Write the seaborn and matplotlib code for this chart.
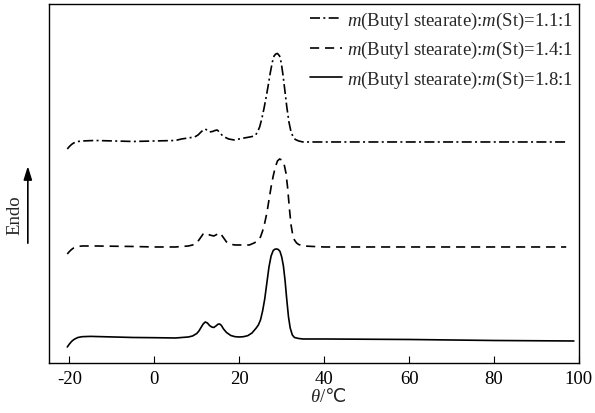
import matplotlib
matplotlib.use("Agg")
import matplotlib.pyplot as plt
import numpy as np
import pandas as pd
import seaborn as sns

# === curve data (temperature in C, signal in arbitrary units) ===
T_18 = [-20.5, -20, -19.5, -19, -18.5, -18, -17, -15, -5, 0, 5, 8, 9, 10, 10.5, 11,
        11.5, 12, 12.5, 13, 13.5, 14, 14.5, 15, 15.4, 15.8, 16.3, 17, 18, 19, 20,
        21, 22, 23, 24, 24.5, 25, 25.5, 26, 26.5, 27, 27.5, 28, 28.4, 28.8, 29.2,
        29.6, 30, 30.4, 30.8, 31.2, 31.6, 32, 32.5, 33, 34, 35, 40, 60, 80, 98.8]
Y_18 = [16, 19, 21.5, 23.3, 24.5, 25.5, 26.3, 26.6, 25.5, 25.3, 25, 26, 27, 29.5, 32, 35.5,
        39, 41, 40, 37.5, 36, 35.5, 37, 38.8, 39, 37.5, 34, 30.5, 27.5, 26.3, 26,
        26.3, 27.3, 30, 35, 38, 43, 52, 64, 80, 96, 107, 112.5, 113.8, 114, 113.5,
        111.5, 106, 97, 82, 63, 46, 35, 28, 25.5, 24.5, 24, 24, 23.5, 22.5, 22]

T_14 = [-20.5, -20, -19.5, -19, -18, -17, -14, -5, 0, 5, 8, 9, 10, 10.5, 11, 11.5,
        12, 12.5, 13, 14, 14.5, 15, 15.5, 16, 16.5, 17, 17.6, 19, 22.4, 23.5, 24.3,
        25, 25.5, 26, 26.5, 27, 27.5, 28, 28.5, 29, 29.5, 30, 30.5, 31, 31.4, 31.8,
        32.2, 32.6, 33, 33.5, 34, 35, 40, 60, 80, 97]
Y_14 = [109, 111.5, 113.5, 115, 116.5, 117, 117, 116.5, 116, 116, 117, 118, 120, 123, 126, 129,
        130, 129.5, 128, 127, 128, 129.5, 130, 127, 124, 121, 119, 118, 118, 120, 122,
        126, 132, 140, 150, 163, 176, 187, 196, 202, 204, 203, 200, 190, 175, 155,
        138, 128, 123, 120, 118.5, 117, 116, 116, 116, 116]

T_11 = [-20.5, -20, -19.5, -19, -18, -17, -14, -5, 0, 5, 6.4, 8, 9.5, 10.3, 11, 11.5,
        12, 12.5, 13, 13.7, 14.3, 14.8, 15.3, 15.9, 16.5, 17.5, 18.8, 20, 21.2, 22.5,
        23.6, 24.2, 24.8, 25.3, 25.8, 26.3, 26.8, 27.3, 27.8, 28.2, 28.6, 29, 29.5,
        29.9, 30.3, 30.7, 31.2, 31.7, 32.2, 32.7, 33.2, 34, 35, 40, 60, 80, 97]
Y_11 = [214, 216.5, 218.5, 220, 221.5, 222, 222.5, 221.5, 222, 222.5, 224, 225, 226, 228, 231, 233,
        234, 232.5, 231, 231.5, 232.5, 233, 231, 228, 226, 224, 223, 224, 225, 226,
        227, 230, 236, 244, 254, 265, 277, 290, 301, 307, 309, 309.5, 307,
        300, 288, 274, 256, 241, 231, 226, 223.5, 222, 221, 221, 221, 221, 221]

LABELS = [r"$m$(Butyl stearate):$m$(St)=1.1:1",
          r"$m$(Butyl stearate):$m$(St)=1.4:1",
          r"$m$(Butyl stearate):$m$(St)=1.8:1"]
X_TICKS = [-20, 0, 20, 40, 60, 80, 100]
FONT = ["Liberation Serif", "DejaVu Sans"]


def draw_dsc():
    sns.set_style("ticks")
    plt.rcParams["font.family"] = FONT
    plt.rcParams["mathtext.fontset"] = "custom"
    plt.rcParams["mathtext.rm"] = "Liberation Serif"
    plt.rcParams["mathtext.it"] = "Liberation Serif:italic"
    plt.rcParams["axes.unicode_minus"] = False

    fig = plt.figure(figsize=(5.95, 4.14), dpi=100)
    ax = fig.add_axes([0.0824, 0.1208, 0.8906, 0.8672])

    curves = [(T_11, Y_11, (0, (6, 2, 1.2, 2)), LABELS[0]),
              (T_14, Y_14, (0, (5.5, 3.5)), LABELS[1]),
              (T_18, Y_18, "-", LABELS[2])]
    for xs, ys, ls, lab in curves:
        df = pd.DataFrame({"T": xs, "y": ys})
        sns.lineplot(data=df, x="T", y="y", ax=ax, color="black", lw=1.2,
                     linestyle=ls, label=lab, sort=False)

    ax.set_xlim(-24.8, 100)
    ax.set_ylim(0, 359)
    ax.set_xticks(X_TICKS)
    ax.set_yticks([])
    ax.tick_params(axis="x", direction="in", length=5, width=0.8, labelsize=13.5,
                   pad=5, colors="black")
    for sp in ax.spines.values():
        sp.set_linewidth(1.0)
        sp.set_color("black")

    ax.set_xlabel("")
    ax.set_ylabel("")
    # x label: italic theta + "/℃" (℃ comes from the fallback font)
    ax.annotate("θ", xy=(0.511, 0), xycoords="axes fraction", xytext=(0, -24),
                textcoords="offset points", ha="right", va="center",
                fontsize=13.5, style="italic", annotation_clip=False)
    ax.annotate("/℃", xy=(0.511, 0), xycoords="axes fraction", xytext=(0, -24),
                textcoords="offset points", ha="left", va="center",
                fontsize=13.5, family=FONT, annotation_clip=False)

    # Endo label with upward arrow
    ax.text(-0.064, 0.415, "Endo", transform=ax.transAxes, rotation=90,
            ha="center", va="center", fontsize=13.5)
    ax.annotate("", xy=(-0.04, 0.556), xytext=(-0.04, 0.326),
                xycoords="axes fraction", textcoords="axes fraction",
                arrowprops=dict(arrowstyle="-|>,head_length=0.8,head_width=0.25",
                                color="black", lw=1.2),
                annotation_clip=False)

    ax.legend(loc="upper right", frameon=False, fontsize=13.5, handlelength=1.7,
              handletextpad=0.3, labelspacing=0.45, borderaxespad=0.1,
              borderpad=0.2)

    fig.savefig("out.png", dpi=100)


if __name__ == "__main__":
    draw_dsc()
